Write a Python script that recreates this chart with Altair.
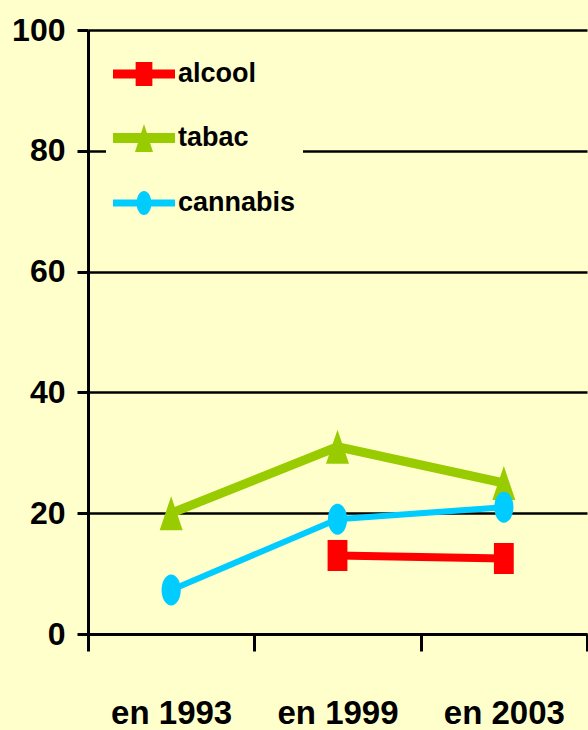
import altair as alt
import pandas as pd
import jinja2

# ---------------- data ----------------
years = ["en 1993", "en 1999", "en 2003"]
series = ["alcool", "tabac", "cannabis"]
alcool = [None, 13, 12.5]
tabac = [20, 31, 25]
cannabis = [7.3, 19, 21]
y_ticks = [0, 20, 40, 60, 80, 100]

# styles, in the alphabetical order of the series (alcool, cannabis, tabac)
colors = ["#FF0000", "#99CC00", "#00CCFF"]            # legend order
colors_alpha = ["#FF0000", "#00CCFF", "#99CC00"]
widths_alpha = [8, 6, 9]
BG = "#FFFFCC"
FONT = "Liberation Sans, Arial, sans-serif"

rows = []
for s, vals in zip(series, [alcool, tabac, cannabis]):
    for yr, v in zip(years, vals):
        if v is not None:
            rows.append({"annee": yr, "serie": s, "valeur": v})
df = pd.DataFrame(rows)

# marker paths (vertically stretched like the original), alphabetical order
shapes_alpha = [
    "M-0.62,-0.97H0.62V0.97H-0.62Z",
    "M-0.6,0A0.6,0.97 0 1,1 0.6,0A0.6,0.97 0 1,1 -0.6,0Z",
    "M0,-1.06L0.72,1.06L-0.72,1.06Z",
]
leg_alc = "M-1,-0.145H1V0.145H-1Z M-0.27,-0.39H0.27V0.39H-0.27Z"
leg_tab = "M-1,-0.16H1V0.16H-1Z M0,-0.45L0.29,0.45L-0.29,0.45Z"
leg_can = "M-1,-0.113H1V0.113H-1Z M-0.24,0A0.24,0.39 0 1,1 0.24,0A0.24,0.39 0 1,1 -0.24,0Z"
leg_expr = (
    f"datum.value === 'alcool' ? '{leg_alc}' : "
    f"(datum.value === 'tabac' ? '{leg_tab}' : '{leg_can}')"
)

x_enc = alt.X(
    "annee:N",
    sort=years,
    scale=alt.Scale(type="band", paddingInner=0, paddingOuter=0),
    axis=alt.Axis(
        title=None,
        labelAngle=0,
        tickBand="extent",
        domainColor="black",
        domainWidth=3,
        tickColor="black",
        tickWidth=3,
        tickSize=17,
        labelFont=FONT,
        labelFontSize=33,
        labelFontWeight="bold",
        labelColor="black",
        labelPadding=46,
        grid=False,
    ),
)
y_enc = alt.Y(
    "valeur:Q",
    scale=alt.Scale(domain=[0, 100], nice=False),
    axis=alt.Axis(
        title=None,
        values=y_ticks,
        grid=True,
        gridColor="black",
        gridWidth=2.5,
        domainColor="black",
        domainWidth=3,
        tickColor="black",
        tickWidth=3,
        tickSize=11,
        labelFont=FONT,
        labelFontSize=32,
        labelFontWeight="bold",
        labelColor="black",
        labelPadding=12,
    ),
)

lines = alt.Chart(df).mark_line().encode(
    x=x_enc,
    y=y_enc,
    stroke=alt.Stroke("serie:N", scale=alt.Scale(range=colors_alpha), legend=None),
    strokeWidth=alt.StrokeWidth(
        "serie:N", scale=alt.Scale(type="ordinal", range=widths_alpha), legend=None
    ),
    detail="serie:N",
)

points = alt.Chart(df).mark_point(filled=True, opacity=1, size=1024, strokeWidth=0).encode(
    x=x_enc,
    y=y_enc,
    color=alt.Color(
        "serie:N",
        scale=alt.Scale(domain=series, range=colors),
        legend=alt.Legend(
            title=None,
            orient="none",
            legendX=18,
            legendY=6,
            padding=7,
            fillColor=BG,
            symbolType={"expr": leg_expr},
            symbolSize=3844,
            symbolStrokeWidth=0,
            labelFont=FONT,
            labelFontSize=27,
            labelFontWeight="bold",
            labelColor="black",
            labelOffset=3,
            rowPadding=20,
        ),
    ),
    shape=alt.Shape("serie:N", scale=alt.Scale(range=shapes_alpha), legend=None),
)

chart = (
    alt.layer(lines, points)
    .properties(
        width=499,
        height=604,
        background=BG,
        autosize=alt.AutoSizeParams(type="none"),
        padding={"left": 88, "top": 30, "right": 1, "bottom": 96},
    )
    .configure_view(strokeWidth=0)
)

TEMPLATE = jinja2.Template("""<!DOCTYPE html>
<html>
<head>
  <meta charset="utf-8">
  <style>
    html, body { background: #FFFFCC; }
    body { margin: 0; overflow: hidden; }
    #{{ output_div }}.vega-embed { width: 100%; display: flex; }
    #{{ output_div }}.vega-embed details,
    #{{ output_div }}.vega-embed details summary { position: relative; }
  </style>
  <script type="text/javascript" src="{{ base_url }}/vega@{{ vega_version }}"></script>
  <script type="text/javascript" src="{{ base_url }}/vega-lite@{{ vegalite_version }}"></script>
  <script type="text/javascript" src="{{ base_url }}/vega-embed@{{ vegaembed_version }}"></script>
</head>
<body>
  <div id="{{ output_div }}"></div>
  <script>
    (function(vegaEmbed) {
      var spec = {{ spec }};
      var embedOpt = {{ embed_options }};
      function showError(el, error){
        el.innerHTML = ('<div style="color:red;"><p>JavaScript Error: ' + error.message + '</p></div>');
        throw error;
      }
      const el = document.getElementById('{{ output_div }}');
      vegaEmbed("#{{ output_div }}", spec, embedOpt).catch(error => showError(el, error));
    })(vegaEmbed);
  </script>
</body>
</html>
""")

chart.save("out.html", embed_options={"renderer": "svg", "actions": False}, template=TEMPLATE)
